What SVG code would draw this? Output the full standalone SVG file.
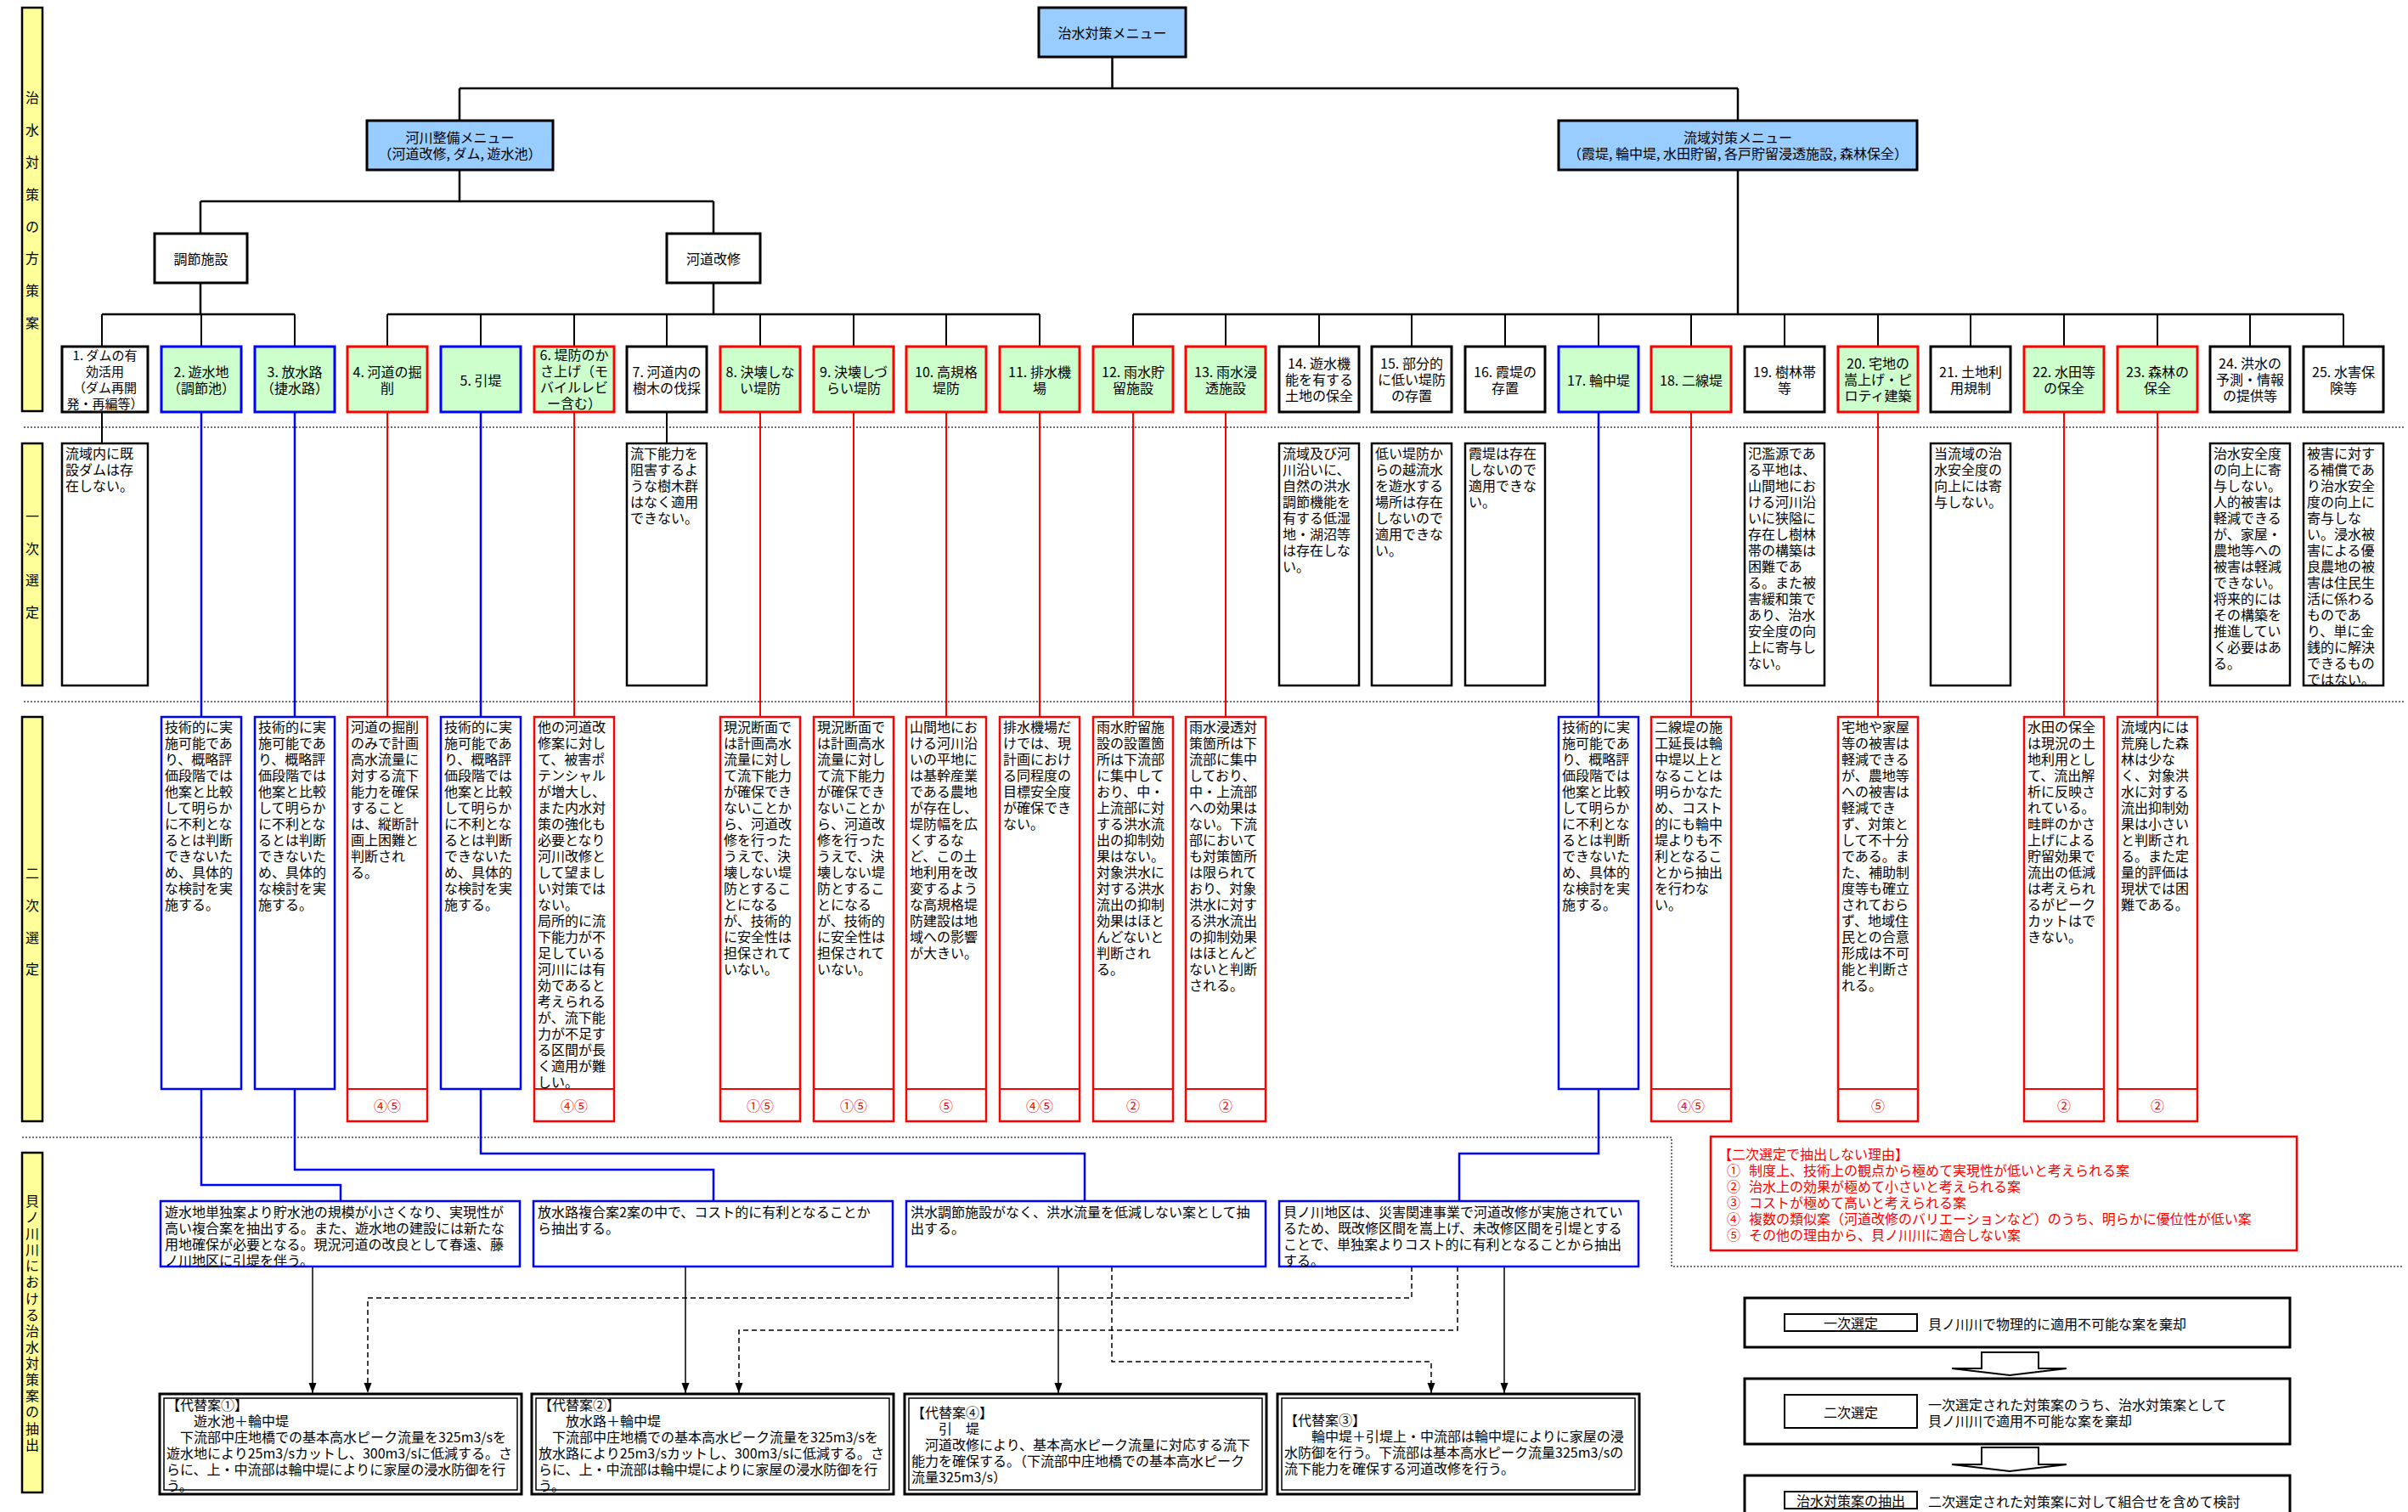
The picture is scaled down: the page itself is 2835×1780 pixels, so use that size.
<svg xmlns="http://www.w3.org/2000/svg" width="2835" height="1780" viewBox="0 0 2835 1780">
<style>
text{font-family:"Noto Sans CJK JP","Noto Sans",sans-serif;font-size:16px;fill:#000}
.c{text-anchor:middle;dominant-baseline:central}
.l{dominant-baseline:central}
.r{fill:#ff0000}
.nw{fill:#fff;stroke:#000;stroke-width:3}
.nb{fill:#ccffcc;stroke:#0000ff;stroke-width:3}
.nr{fill:#ccffcc;stroke:#ff0000;stroke-width:3}
.menu{fill:#99ccff;stroke:#000;stroke-width:3}
.yb{fill:#ffff99;stroke:#000;stroke-width:2.5}
.bw{fill:#fff;stroke:#000;stroke-width:2.5}
.bb{fill:#fff;stroke:#0000ff;stroke-width:2.5}
.br{fill:#fff;stroke:#ff0000;stroke-width:2.5}
.tree{fill:none;stroke:#000;stroke-width:2.5}
.drop{fill:none;stroke:#000;stroke-width:2}
.cb{fill:none;stroke:#0000ff;stroke-width:2.5}
.cr{fill:none;stroke:#ff0000;stroke-width:2}
.sep{fill:none;stroke:#444;stroke-width:1.5;stroke-dasharray:2 2}
.ar{fill:none;stroke:#000;stroke-width:1.5}
.ad{fill:none;stroke:#000;stroke-width:1.5;stroke-dasharray:6 4}
.alt{fill:#fff;stroke:#000;stroke-width:3}
.alti{fill:none;stroke:#000;stroke-width:1.5}
</style>
<defs>
<marker id="ahd" markerUnits="userSpaceOnUse" markerWidth="12" markerHeight="16" refX="16" refY="6" orient="auto" viewBox="0 0 16 12">
<path d="M0,0 L16,6 L0,12 z" fill="#000"/>
</marker>
</defs>

<g id="separators">
<path class="sep" d="M28,503 H2830"/>
<path class="sep" d="M28,826 H2830"/>
<path class="sep" d="M26,1339 H1968 V1491 H2830"/>
</g>

<g id="bar1"><rect class="yb" x="26" y="9" width="24" height="475"/>
<text class="c" x="38" y="114">治</text><text class="c" x="38" y="152">水</text><text class="c" x="38" y="190">対</text><text class="c" x="38" y="228">策</text><text class="c" x="38" y="266">の</text><text class="c" x="38" y="303">方</text><text class="c" x="38" y="341">策</text><text class="c" x="38" y="379">案</text></g>
<g id="bar2"><rect class="yb" x="26" y="522" width="24" height="285"/>
<text class="c" x="38" y="607">一</text><text class="c" x="38" y="645">次</text><text class="c" x="38" y="682">選</text><text class="c" x="38" y="720">定</text></g>
<g id="bar3"><rect class="yb" x="26" y="844" width="24" height="476"/>
<text class="c" x="38" y="1027">二</text><text class="c" x="38" y="1065">次</text><text class="c" x="38" y="1103">選</text><text class="c" x="38" y="1140">定</text></g>
<g id="bar4"><rect class="yb" x="26" y="1357" width="24" height="400"/>
<text class="c" x="38" y="1413">貝</text><text class="c" x="38" y="1432">ノ</text><text class="c" x="38" y="1451">川</text><text class="c" x="38" y="1470">川</text><text class="c" x="38" y="1489">に</text><text class="c" x="38" y="1508">お</text><text class="c" x="38" y="1528">け</text><text class="c" x="38" y="1547">る</text><text class="c" x="38" y="1566">治</text><text class="c" x="38" y="1585">水</text><text class="c" x="38" y="1604">対</text><text class="c" x="38" y="1623">策</text><text class="c" x="38" y="1642">案</text><text class="c" x="38" y="1661">の</text><text class="c" x="38" y="1681">抽</text><text class="c" x="38" y="1700">出</text></g>

<g id="connectors">
<path class="tree" d="M1309.5,67 V104 M541,104 H2046 M541,104 V142 M2046,104 V142"/>
<path class="tree" d="M541,200 V237 M236,237 H840 M236,237 V275 M840,237 V275"/>
<path class="tree" d="M236,333 V370 M120,370 H347 M840,333 V370 M456,370 H1224 M2046,200 V370 M1334,370 H2759"/>
<path class="drop" d="M120,370 V408 M237,370 V408 M347,370 V408 M456,370 V408 M566,370 V408 M676,370 V408 M785,370 V408 M895,370 V408 M1005,370 V408 M1114,370 V408 M1224,370 V408 M1334,370 V408 M1443,370 V408 M1553,370 V408 M1662,370 V408 M1772,370 V408 M1882,370 V408 M1991,370 V408 M2101,370 V408 M2211,370 V408 M2320,370 V408 M2430,370 V408 M2540,370 V408 M2649,370 V408 M2759,370 V408"/>
<path class="drop" d="M120,485 V522 M785,485 V522"/>
<path class="cb" d="M237,485 V844 M347,485 V844 M566,485 V844 M1882,485 V844"/>
<path class="cr" d="M456,485 V844 M676,485 V844 M895,485 V844 M1005,485 V844 M1114,485 V844 M1224,485 V844 M1334,485 V844 M1443,485 V844 M1991,485 V844 M2211,485 V844 M2430,485 V844 M2540,485 V844"/>
<path class="cb" d="M237,1282 V1395 H401 V1414 M347,1282 V1377 H840 V1414 M566,1282 V1358 H1277 V1414 M1882,1282 V1358 H1718 V1414"/>
<path class="ar" marker-end="url(#ahd)" d="M368,1491 V1640"/>
<path class="ar" marker-end="url(#ahd)" d="M807,1491 V1640"/>
<path class="ar" marker-end="url(#ahd)" d="M1246,1491 V1640"/>
<path class="ar" marker-end="url(#ahd)" d="M1771,1491 V1640"/>
<path class="ad" marker-end="url(#ahd)" d="M1662,1491 V1528 H433 V1640"/>
<path class="ad" marker-end="url(#ahd)" d="M1716,1491 V1566 H870 V1640"/>
<path class="ad" marker-end="url(#ahd)" d="M1309,1491 V1603 H1685 V1640"/>
</g>

<g id="menu-top"><rect class="menu" x="1223" y="9" width="173" height="58"/><text class="c" x="1309.5" y="38">治水対策メニュー</text></g>
<g id="menu-river"><rect class="menu" x="432" y="142" width="219" height="58"/><text class="c" x="541.5" y="161">河川整備メニュー</text><text class="c" x="541.5" y="180">（河道改修, ダム, 遊水池）</text></g>
<g id="menu-basin"><rect class="menu" x="1835" y="142" width="422" height="58"/><text class="c" x="2046" y="161">流域対策メニュー</text><text class="c" x="2046" y="180">（霞堤, 輪中堤, 水田貯留, 各戸貯留浸透施設, 森林保全）</text></g>
<g id="grp-chosetsu"><rect class="nw" x="182" y="275" width="109" height="58"/><text class="c" x="236.5" y="304">調節施設</text></g>
<g id="grp-kado"><rect class="nw" x="785" y="275" width="110" height="58"/><text class="c" x="840" y="304">河道改修</text></g>

<g id="n1"><rect class="nw" x="73" y="408" width="101" height="77"/><text class="c" style="font-size:15px" x="123.5" y="417">1. ダムの有<tspan x="123.5" dy="19">効活用</tspan><tspan x="123.5" dy="19">（ダム再開</tspan><tspan x="123.5" dy="19">発・再編等）</tspan></text></g>
<g id="n2"><rect class="nb" x="190" y="408" width="94" height="77"/><text class="c" x="237" y="437">2. 遊水地<tspan x="237" dy="19">（調節池）</tspan></text></g>
<g id="n3"><rect class="nb" x="300" y="408" width="94" height="77"/><text class="c" x="347" y="437">3. 放水路<tspan x="347" dy="19">（捷水路）</tspan></text></g>
<g id="n4"><rect class="nr" x="409" y="408" width="94" height="77"/><text class="c" x="456" y="437">4. 河道の掘<tspan x="456" dy="19">削</tspan></text></g>
<g id="n5"><rect class="nb" x="519" y="408" width="94" height="77"/><text class="c" x="566" y="446.5">5. 引堤</text></g>
<g id="n6"><rect class="nr" x="629" y="408" width="94" height="77"/><text class="c" x="676" y="417">6. 堤防のか<tspan x="676" dy="19">さ上げ（モ</tspan><tspan x="676" dy="19">バイルレビ</tspan><tspan x="676" dy="19">ー含む）</tspan></text></g>
<g id="n7"><rect class="nw" x="738" y="408" width="94" height="77"/><text class="c" x="785" y="437">7. 河道内の<tspan x="785" dy="19">樹木の伐採</tspan></text></g>
<g id="n8"><rect class="nr" x="848" y="408" width="94" height="77"/><text class="c" x="895" y="437">8. 決壊しな<tspan x="895" dy="19">い堤防</tspan></text></g>
<g id="n9"><rect class="nr" x="958" y="408" width="94" height="77"/><text class="c" x="1005" y="437">9. 決壊しづ<tspan x="1005" dy="19">らい堤防</tspan></text></g>
<g id="n10"><rect class="nr" x="1067" y="408" width="94" height="77"/><text class="c" x="1114" y="437">10. 高規格<tspan x="1114" dy="19">堤防</tspan></text></g>
<g id="n11"><rect class="nr" x="1177" y="408" width="94" height="77"/><text class="c" x="1224" y="437">11. 排水機<tspan x="1224" dy="19">場</tspan></text></g>
<g id="n12"><rect class="nr" x="1287" y="408" width="94" height="77"/><text class="c" x="1334" y="437">12. 雨水貯<tspan x="1334" dy="19">留施設</tspan></text></g>
<g id="n13"><rect class="nr" x="1396" y="408" width="94" height="77"/><text class="c" x="1443" y="437">13. 雨水浸<tspan x="1443" dy="19">透施設</tspan></text></g>
<g id="n14"><rect class="nw" x="1506" y="408" width="94" height="77"/><text class="c" x="1553" y="427">14. 遊水機<tspan x="1553" dy="19">能を有する</tspan><tspan x="1553" dy="19">土地の保全</tspan></text></g>
<g id="n15"><rect class="nw" x="1615" y="408" width="94" height="77"/><text class="c" x="1662" y="427">15. 部分的<tspan x="1662" dy="19">に低い堤防</tspan><tspan x="1662" dy="19">の存置</tspan></text></g>
<g id="n16"><rect class="nw" x="1725" y="408" width="94" height="77"/><text class="c" x="1772" y="437">16. 霞堤の<tspan x="1772" dy="19">存置</tspan></text></g>
<g id="n17"><rect class="nb" x="1835" y="408" width="94" height="77"/><text class="c" x="1882" y="446.5">17. 輪中堤</text></g>
<g id="n18"><rect class="nr" x="1944" y="408" width="94" height="77"/><text class="c" x="1991" y="446.5">18. 二線堤</text></g>
<g id="n19"><rect class="nw" x="2054" y="408" width="94" height="77"/><text class="c" x="2101" y="437">19. 樹林帯<tspan x="2101" dy="19">等</tspan></text></g>
<g id="n20"><rect class="nr" x="2164" y="408" width="94" height="77"/><text class="c" x="2211" y="427">20. 宅地の<tspan x="2211" dy="19">嵩上げ・ピ</tspan><tspan x="2211" dy="19">ロティ建築</tspan></text></g>
<g id="n21"><rect class="nw" x="2273" y="408" width="94" height="77"/><text class="c" x="2320" y="437">21. 土地利<tspan x="2320" dy="19">用規制</tspan></text></g>
<g id="n22"><rect class="nr" x="2383" y="408" width="94" height="77"/><text class="c" x="2430" y="437">22. 水田等<tspan x="2430" dy="19">の保全</tspan></text></g>
<g id="n23"><rect class="nr" x="2493" y="408" width="94" height="77"/><text class="c" x="2540" y="437">23. 森林の<tspan x="2540" dy="19">保全</tspan></text></g>
<g id="n24"><rect class="nw" x="2602" y="408" width="94" height="77"/><text class="c" x="2649" y="427">24. 洪水の<tspan x="2649" dy="19">予測・情報</tspan><tspan x="2649" dy="19">の提供等</tspan></text></g>
<g id="n25"><rect class="nw" x="2712" y="408" width="94" height="77"/><text class="c" x="2759" y="437">25. 水害保<tspan x="2759" dy="19">険等</tspan></text></g>

<g id="p1"><rect class="bw" x="73" y="522" width="101" height="285"/><text class="l" x="77" y="533">流域内に既<tspan x="77" dy="19">設ダムは存</tspan><tspan x="77" dy="19">在しない。</tspan></text></g>
<g id="p7"><rect class="bw" x="738" y="522" width="94" height="285"/><text class="l" x="742" y="533">流下能力を<tspan x="742" dy="19">阻害するよ</tspan><tspan x="742" dy="19">うな樹木群</tspan><tspan x="742" dy="19">はなく適用</tspan><tspan x="742" dy="19">できない。</tspan></text></g>
<g id="p14"><rect class="bw" x="1506" y="522" width="94" height="285"/><text class="l" x="1510" y="533">流域及び河<tspan x="1510" dy="19">川沿いに、</tspan><tspan x="1510" dy="19">自然の洪水</tspan><tspan x="1510" dy="19">調節機能を</tspan><tspan x="1510" dy="19">有する低湿</tspan><tspan x="1510" dy="19">地・湖沼等</tspan><tspan x="1510" dy="19">は存在しな</tspan><tspan x="1510" dy="19">い。</tspan></text></g>
<g id="p15"><rect class="bw" x="1615" y="522" width="94" height="285"/><text class="l" x="1619" y="533">低い堤防か<tspan x="1619" dy="19">らの越流水</tspan><tspan x="1619" dy="19">を遊水する</tspan><tspan x="1619" dy="19">場所は存在</tspan><tspan x="1619" dy="19">しないので</tspan><tspan x="1619" dy="19">適用できな</tspan><tspan x="1619" dy="19">い。</tspan></text></g>
<g id="p16"><rect class="bw" x="1725" y="522" width="94" height="285"/><text class="l" x="1729" y="533">霞堤は存在<tspan x="1729" dy="19">しないので</tspan><tspan x="1729" dy="19">適用できな</tspan><tspan x="1729" dy="19">い。</tspan></text></g>
<g id="p19"><rect class="bw" x="2054" y="522" width="94" height="285"/><text class="l" x="2058" y="533">氾濫源であ<tspan x="2058" dy="19">る平地は、</tspan><tspan x="2058" dy="19">山間地にお</tspan><tspan x="2058" dy="19">ける河川沿</tspan><tspan x="2058" dy="19">いに狭隘に</tspan><tspan x="2058" dy="19">存在し樹林</tspan><tspan x="2058" dy="19">帯の構築は</tspan><tspan x="2058" dy="19">困難であ</tspan><tspan x="2058" dy="19">る。また被</tspan><tspan x="2058" dy="19">害緩和策で</tspan><tspan x="2058" dy="19">あり、治水</tspan><tspan x="2058" dy="19">安全度の向</tspan><tspan x="2058" dy="19">上に寄与し</tspan><tspan x="2058" dy="19">ない。</tspan></text></g>
<g id="p21"><rect class="bw" x="2273" y="522" width="94" height="285"/><text class="l" x="2277" y="533">当流域の治<tspan x="2277" dy="19">水安全度の</tspan><tspan x="2277" dy="19">向上には寄</tspan><tspan x="2277" dy="19">与しない。</tspan></text></g>
<g id="p24"><rect class="bw" x="2602" y="522" width="94" height="285"/><text class="l" x="2606" y="533">治水安全度<tspan x="2606" dy="19">の向上に寄</tspan><tspan x="2606" dy="19">与しない。</tspan><tspan x="2606" dy="19">人的被害は</tspan><tspan x="2606" dy="19">軽減できる</tspan><tspan x="2606" dy="19">が、家屋・</tspan><tspan x="2606" dy="19">農地等への</tspan><tspan x="2606" dy="19">被害は軽減</tspan><tspan x="2606" dy="19">できない。</tspan><tspan x="2606" dy="19">将来的には</tspan><tspan x="2606" dy="19">その構築を</tspan><tspan x="2606" dy="19">推進してい</tspan><tspan x="2606" dy="19">く必要はあ</tspan><tspan x="2606" dy="19">る。</tspan></text></g>
<g id="p25"><rect class="bw" x="2712" y="522" width="94" height="285"/><text class="l" x="2716" y="533">被害に対す<tspan x="2716" dy="19">る補償であ</tspan><tspan x="2716" dy="19">り治水安全</tspan><tspan x="2716" dy="19">度の向上に</tspan><tspan x="2716" dy="19">寄与しな</tspan><tspan x="2716" dy="19">い。浸水被</tspan><tspan x="2716" dy="19">害による優</tspan><tspan x="2716" dy="19">良農地の被</tspan><tspan x="2716" dy="19">害は住民生</tspan><tspan x="2716" dy="19">活に係わる</tspan><tspan x="2716" dy="19">ものであ</tspan><tspan x="2716" dy="19">り、単に金</tspan><tspan x="2716" dy="19">銭的に解決</tspan><tspan x="2716" dy="19">できるもの</tspan><tspan x="2716" dy="19">ではない。</tspan></text></g>

<g id="s2"><rect class="bb" x="190" y="844" width="94" height="438"/><text class="l" x="194" y="855">技術的に実<tspan x="194" dy="19">施可能であ</tspan><tspan x="194" dy="19">り、概略評</tspan><tspan x="194" dy="19">価段階では</tspan><tspan x="194" dy="19">他案と比較</tspan><tspan x="194" dy="19">して明らか</tspan><tspan x="194" dy="19">に不利とな</tspan><tspan x="194" dy="19">るとは判断</tspan><tspan x="194" dy="19">できないた</tspan><tspan x="194" dy="19">め、具体的</tspan><tspan x="194" dy="19">な検討を実</tspan><tspan x="194" dy="19">施する。</tspan></text></g>
<g id="s3"><rect class="bb" x="300" y="844" width="94" height="438"/><text class="l" x="304" y="855">技術的に実<tspan x="304" dy="19">施可能であ</tspan><tspan x="304" dy="19">り、概略評</tspan><tspan x="304" dy="19">価段階では</tspan><tspan x="304" dy="19">他案と比較</tspan><tspan x="304" dy="19">して明らか</tspan><tspan x="304" dy="19">に不利とな</tspan><tspan x="304" dy="19">るとは判断</tspan><tspan x="304" dy="19">できないた</tspan><tspan x="304" dy="19">め、具体的</tspan><tspan x="304" dy="19">な検討を実</tspan><tspan x="304" dy="19">施する。</tspan></text></g>
<g id="s4"><rect class="br" x="409" y="844" width="94" height="476"/><path class="cr" d="M409,1282 H503"/><text class="l" x="413" y="855">河道の掘削<tspan x="413" dy="19">のみで計画</tspan><tspan x="413" dy="19">高水流量に</tspan><tspan x="413" dy="19">対する流下</tspan><tspan x="413" dy="19">能力を確保</tspan><tspan x="413" dy="19">すること</tspan><tspan x="413" dy="19">は、縦断計</tspan><tspan x="413" dy="19">画上困難と</tspan><tspan x="413" dy="19">判断され</tspan><tspan x="413" dy="19">る。</tspan></text><text class="c r" x="456" y="1301">④⑤</text></g>
<g id="s5"><rect class="bb" x="519" y="844" width="94" height="438"/><text class="l" x="523" y="855">技術的に実<tspan x="523" dy="19">施可能であ</tspan><tspan x="523" dy="19">り、概略評</tspan><tspan x="523" dy="19">価段階では</tspan><tspan x="523" dy="19">他案と比較</tspan><tspan x="523" dy="19">して明らか</tspan><tspan x="523" dy="19">に不利とな</tspan><tspan x="523" dy="19">るとは判断</tspan><tspan x="523" dy="19">できないた</tspan><tspan x="523" dy="19">め、具体的</tspan><tspan x="523" dy="19">な検討を実</tspan><tspan x="523" dy="19">施する。</tspan></text></g>
<g id="s6"><rect class="br" x="629" y="844" width="94" height="476"/><path class="cr" d="M629,1282 H723"/><text class="l" x="633" y="855">他の河道改<tspan x="633" dy="19">修案に対し</tspan><tspan x="633" dy="19">て、被害ポ</tspan><tspan x="633" dy="19">テンシャル</tspan><tspan x="633" dy="19">が増大し、</tspan><tspan x="633" dy="19">また内水対</tspan><tspan x="633" dy="19">策の強化も</tspan><tspan x="633" dy="19">必要となり</tspan><tspan x="633" dy="19">河川改修と</tspan><tspan x="633" dy="19">して望まし</tspan><tspan x="633" dy="19">い対策では</tspan><tspan x="633" dy="19">ない。</tspan><tspan x="633" dy="19">局所的に流</tspan><tspan x="633" dy="19">下能力が不</tspan><tspan x="633" dy="19">足している</tspan><tspan x="633" dy="19">河川には有</tspan><tspan x="633" dy="19">効であると</tspan><tspan x="633" dy="19">考えられる</tspan><tspan x="633" dy="19">が、流下能</tspan><tspan x="633" dy="19">力が不足す</tspan><tspan x="633" dy="19">る区間が長</tspan><tspan x="633" dy="19">く適用が難</tspan><tspan x="633" dy="19">しい。</tspan></text><text class="c r" x="676" y="1301">④⑤</text></g>
<g id="s8"><rect class="br" x="848" y="844" width="94" height="476"/><path class="cr" d="M848,1282 H942"/><text class="l" x="852" y="855">現況断面で<tspan x="852" dy="19">は計画高水</tspan><tspan x="852" dy="19">流量に対し</tspan><tspan x="852" dy="19">て流下能力</tspan><tspan x="852" dy="19">が確保でき</tspan><tspan x="852" dy="19">ないことか</tspan><tspan x="852" dy="19">ら、河道改</tspan><tspan x="852" dy="19">修を行った</tspan><tspan x="852" dy="19">うえで、決</tspan><tspan x="852" dy="19">壊しない堤</tspan><tspan x="852" dy="19">防とするこ</tspan><tspan x="852" dy="19">とになる</tspan><tspan x="852" dy="19">が、技術的</tspan><tspan x="852" dy="19">に安全性は</tspan><tspan x="852" dy="19">担保されて</tspan><tspan x="852" dy="19">いない。</tspan></text><text class="c r" x="895" y="1301">①⑤</text></g>
<g id="s9"><rect class="br" x="958" y="844" width="94" height="476"/><path class="cr" d="M958,1282 H1052"/><text class="l" x="962" y="855">現況断面で<tspan x="962" dy="19">は計画高水</tspan><tspan x="962" dy="19">流量に対し</tspan><tspan x="962" dy="19">て流下能力</tspan><tspan x="962" dy="19">が確保でき</tspan><tspan x="962" dy="19">ないことか</tspan><tspan x="962" dy="19">ら、河道改</tspan><tspan x="962" dy="19">修を行った</tspan><tspan x="962" dy="19">うえで、決</tspan><tspan x="962" dy="19">壊しない堤</tspan><tspan x="962" dy="19">防とするこ</tspan><tspan x="962" dy="19">とになる</tspan><tspan x="962" dy="19">が、技術的</tspan><tspan x="962" dy="19">に安全性は</tspan><tspan x="962" dy="19">担保されて</tspan><tspan x="962" dy="19">いない。</tspan></text><text class="c r" x="1005" y="1301">①⑤</text></g>
<g id="s10"><rect class="br" x="1067" y="844" width="94" height="476"/><path class="cr" d="M1067,1282 H1161"/><text class="l" x="1071" y="855">山間地にお<tspan x="1071" dy="19">ける河川沿</tspan><tspan x="1071" dy="19">いの平地に</tspan><tspan x="1071" dy="19">は基幹産業</tspan><tspan x="1071" dy="19">である農地</tspan><tspan x="1071" dy="19">が存在し、</tspan><tspan x="1071" dy="19">堤防幅を広</tspan><tspan x="1071" dy="19">くするな</tspan><tspan x="1071" dy="19">ど、この土</tspan><tspan x="1071" dy="19">地利用を改</tspan><tspan x="1071" dy="19">変するよう</tspan><tspan x="1071" dy="19">な高規格堤</tspan><tspan x="1071" dy="19">防建設は地</tspan><tspan x="1071" dy="19">域への影響</tspan><tspan x="1071" dy="19">が大きい。</tspan></text><text class="c r" x="1114" y="1301">⑤</text></g>
<g id="s11"><rect class="br" x="1177" y="844" width="94" height="476"/><path class="cr" d="M1177,1282 H1271"/><text class="l" x="1181" y="855">排水機場だ<tspan x="1181" dy="19">けでは、現</tspan><tspan x="1181" dy="19">計画におけ</tspan><tspan x="1181" dy="19">る同程度の</tspan><tspan x="1181" dy="19">目標安全度</tspan><tspan x="1181" dy="19">が確保でき</tspan><tspan x="1181" dy="19">ない。</tspan></text><text class="c r" x="1224" y="1301">④⑤</text></g>
<g id="s12"><rect class="br" x="1287" y="844" width="94" height="476"/><path class="cr" d="M1287,1282 H1381"/><text class="l" x="1291" y="855">雨水貯留施<tspan x="1291" dy="19">設の設置箇</tspan><tspan x="1291" dy="19">所は下流部</tspan><tspan x="1291" dy="19">に集中して</tspan><tspan x="1291" dy="19">おり、中・</tspan><tspan x="1291" dy="19">上流部に対</tspan><tspan x="1291" dy="19">する洪水流</tspan><tspan x="1291" dy="19">出の抑制効</tspan><tspan x="1291" dy="19">果はない。</tspan><tspan x="1291" dy="19">対象洪水に</tspan><tspan x="1291" dy="19">対する洪水</tspan><tspan x="1291" dy="19">流出の抑制</tspan><tspan x="1291" dy="19">効果はほと</tspan><tspan x="1291" dy="19">んどないと</tspan><tspan x="1291" dy="19">判断され</tspan><tspan x="1291" dy="19">る。</tspan></text><text class="c r" x="1334" y="1301">②</text></g>
<g id="s13"><rect class="br" x="1396" y="844" width="94" height="476"/><path class="cr" d="M1396,1282 H1490"/><text class="l" x="1400" y="855">雨水浸透対<tspan x="1400" dy="19">策箇所は下</tspan><tspan x="1400" dy="19">流部に集中</tspan><tspan x="1400" dy="19">しており、</tspan><tspan x="1400" dy="19">中・上流部</tspan><tspan x="1400" dy="19">への効果は</tspan><tspan x="1400" dy="19">ない。下流</tspan><tspan x="1400" dy="19">部において</tspan><tspan x="1400" dy="19">も対策箇所</tspan><tspan x="1400" dy="19">は限られて</tspan><tspan x="1400" dy="19">おり、対象</tspan><tspan x="1400" dy="19">洪水に対す</tspan><tspan x="1400" dy="19">る洪水流出</tspan><tspan x="1400" dy="19">の抑制効果</tspan><tspan x="1400" dy="19">はほとんど</tspan><tspan x="1400" dy="19">ないと判断</tspan><tspan x="1400" dy="19">される。</tspan></text><text class="c r" x="1443" y="1301">②</text></g>
<g id="s17"><rect class="bb" x="1835" y="844" width="94" height="438"/><text class="l" x="1839" y="855">技術的に実<tspan x="1839" dy="19">施可能であ</tspan><tspan x="1839" dy="19">り、概略評</tspan><tspan x="1839" dy="19">価段階では</tspan><tspan x="1839" dy="19">他案と比較</tspan><tspan x="1839" dy="19">して明らか</tspan><tspan x="1839" dy="19">に不利とな</tspan><tspan x="1839" dy="19">るとは判断</tspan><tspan x="1839" dy="19">できないた</tspan><tspan x="1839" dy="19">め、具体的</tspan><tspan x="1839" dy="19">な検討を実</tspan><tspan x="1839" dy="19">施する。</tspan></text></g>
<g id="s18"><rect class="br" x="1944" y="844" width="94" height="476"/><path class="cr" d="M1944,1282 H2038"/><text class="l" x="1948" y="855">二線堤の施<tspan x="1948" dy="19">工延長は輪</tspan><tspan x="1948" dy="19">中堤以上と</tspan><tspan x="1948" dy="19">なることは</tspan><tspan x="1948" dy="19">明らかなた</tspan><tspan x="1948" dy="19">め、コスト</tspan><tspan x="1948" dy="19">的にも輪中</tspan><tspan x="1948" dy="19">堤よりも不</tspan><tspan x="1948" dy="19">利となるこ</tspan><tspan x="1948" dy="19">とから抽出</tspan><tspan x="1948" dy="19">を行わな</tspan><tspan x="1948" dy="19">い。</tspan></text><text class="c r" x="1991" y="1301">④⑤</text></g>
<g id="s20"><rect class="br" x="2164" y="844" width="94" height="476"/><path class="cr" d="M2164,1282 H2258"/><text class="l" x="2168" y="855">宅地や家屋<tspan x="2168" dy="19">等の被害は</tspan><tspan x="2168" dy="19">軽減できる</tspan><tspan x="2168" dy="19">が、農地等</tspan><tspan x="2168" dy="19">への被害は</tspan><tspan x="2168" dy="19">軽減でき</tspan><tspan x="2168" dy="19">ず、対策と</tspan><tspan x="2168" dy="19">して不十分</tspan><tspan x="2168" dy="19">である。ま</tspan><tspan x="2168" dy="19">た、補助制</tspan><tspan x="2168" dy="19">度等も確立</tspan><tspan x="2168" dy="19">されておら</tspan><tspan x="2168" dy="19">ず、地域住</tspan><tspan x="2168" dy="19">民との合意</tspan><tspan x="2168" dy="19">形成は不可</tspan><tspan x="2168" dy="19">能と判断さ</tspan><tspan x="2168" dy="19">れる。</tspan></text><text class="c r" x="2211" y="1301">⑤</text></g>
<g id="s22"><rect class="br" x="2383" y="844" width="94" height="476"/><path class="cr" d="M2383,1282 H2477"/><text class="l" x="2387" y="855">水田の保全<tspan x="2387" dy="19">は現況の土</tspan><tspan x="2387" dy="19">地利用とし</tspan><tspan x="2387" dy="19">て、流出解</tspan><tspan x="2387" dy="19">析に反映さ</tspan><tspan x="2387" dy="19">れている。</tspan><tspan x="2387" dy="19">畦畔のかさ</tspan><tspan x="2387" dy="19">上げによる</tspan><tspan x="2387" dy="19">貯留効果で</tspan><tspan x="2387" dy="19">流出の低減</tspan><tspan x="2387" dy="19">は考えられ</tspan><tspan x="2387" dy="19">るがピーク</tspan><tspan x="2387" dy="19">カットはで</tspan><tspan x="2387" dy="19">きない。</tspan></text><text class="c r" x="2430" y="1301">②</text></g>
<g id="s23"><rect class="br" x="2493" y="844" width="94" height="476"/><path class="cr" d="M2493,1282 H2587"/><text class="l" x="2497" y="855">流域内には<tspan x="2497" dy="19">荒廃した森</tspan><tspan x="2497" dy="19">林は少な</tspan><tspan x="2497" dy="19">く、対象洪</tspan><tspan x="2497" dy="19">水に対する</tspan><tspan x="2497" dy="19">流出抑制効</tspan><tspan x="2497" dy="19">果は小さい</tspan><tspan x="2497" dy="19">と判断され</tspan><tspan x="2497" dy="19">る。また定</tspan><tspan x="2497" dy="19">量的評価は</tspan><tspan x="2497" dy="19">現状では困</tspan><tspan x="2497" dy="19">難である。</tspan></text><text class="c r" x="2540" y="1301">②</text></g>

<g id="ex-a"><rect class="bb" x="189" y="1414" width="423" height="77"/><text class="l" x="194" y="1426">遊水地単独案より貯水池の規模が小さくなり、実現性が<tspan x="194" dy="19">高い複合案を抽出する。また、遊水地の建設には新たな</tspan><tspan x="194" dy="19">用地確保が必要となる。現況河道の改良として春遠、藤</tspan><tspan x="194" dy="19">ノ川地区に引堤を伴う。</tspan></text></g>
<g id="ex-b"><rect class="bb" x="628" y="1414" width="423" height="77"/><text class="l" x="633" y="1426">放水路複合案2案の中で、コスト的に有利となることか<tspan x="633" dy="19">ら抽出する。</tspan></text></g>
<g id="ex-c"><rect class="bb" x="1067" y="1414" width="423" height="77"/><text class="l" x="1072" y="1426">洪水調節施設がなく、洪水流量を低減しない案として抽<tspan x="1072" dy="19">出する。</tspan></text></g>
<g id="ex-d"><rect class="bb" x="1506" y="1414" width="423" height="77"/><text class="l" x="1511" y="1426">貝ノ川地区は、災害関連事業で河道改修が実施されてい<tspan x="1511" dy="19">るため、既改修区間を嵩上げ、未改修区間を引堤とする</tspan><tspan x="1511" dy="19">ことで、単独案よりコスト的に有利となることから抽出</tspan><tspan x="1511" dy="19">する。</tspan></text></g>

<g id="alt1"><rect class="alt" x="188" y="1641" width="426" height="118"/><rect class="alti" x="193" y="1646" width="416" height="108"/><text class="l" x="196" y="1653">【代替案①】<tspan x="196" dy="19">　　遊水池＋輪中堤</tspan><tspan x="196" dy="19">　下流部中庄地橋での基本高水ピーク流量を325m3/sを</tspan><tspan x="196" dy="19">遊水地により25m3/sカットし、300m3/sに低減する。さ</tspan><tspan x="196" dy="19">らに、上・中流部は輪中堤によりに家屋の浸水防御を行</tspan><tspan x="196" dy="19">う。</tspan></text></g>
<g id="alt2"><rect class="alt" x="626" y="1641" width="426" height="118"/><rect class="alti" x="631" y="1646" width="416" height="108"/><text class="l" x="634" y="1653">【代替案②】<tspan x="634" dy="19">　　放水路＋輪中堤</tspan><tspan x="634" dy="19">　下流部中庄地橋での基本高水ピーク流量を325m3/sを</tspan><tspan x="634" dy="19">放水路により25m3/sカットし、300m3/sに低減する。さ</tspan><tspan x="634" dy="19">らに、上・中流部は輪中堤によりに家屋の浸水防御を行</tspan><tspan x="634" dy="19">う。</tspan></text></g>
<g id="alt4"><rect class="alt" x="1065" y="1641" width="426" height="118"/><rect class="alti" x="1070" y="1646" width="416" height="108"/><text class="l" x="1073" y="1662">【代替案④】<tspan x="1073" dy="19">　　引　堤</tspan><tspan x="1073" dy="19">　河道改修により、基本高水ピーク流量に対応する流下</tspan><tspan x="1073" dy="19">能力を確保する。（下流部中庄地橋での基本高水ピーク</tspan><tspan x="1073" dy="19">流量325m3/s）</tspan></text></g>
<g id="alt3"><rect class="alt" x="1504" y="1641" width="426" height="118"/><rect class="alti" x="1509" y="1646" width="416" height="108"/><text class="l" x="1512" y="1671">【代替案③】<tspan x="1512" dy="19">　　輪中堤＋引堤上・中流部は輪中堤によりに家屋の浸</tspan><tspan x="1512" dy="19">水防御を行う。下流部は基本高水ピーク流量325m3/sの</tspan><tspan x="1512" dy="19">流下能力を確保する河道改修を行う。</tspan></text></g>

<g id="reasons"><rect class="br" x="2014" y="1338" width="690" height="134"/>
<text class="l r" x="2023" y="1358">【二次選定で抽出しない理由】</text>
<text class="l r" x="2033" y="1377">①<tspan x="2059">制度上、技術上の観点から極めて実現性が低いと考えられる案</tspan></text>
<text class="l r" x="2033" y="1396">②<tspan x="2059">治水上の効果が極めて小さいと考えられる案</tspan></text>
<text class="l r" x="2033" y="1415">③<tspan x="2059">コストが極めて高いと考えられる案</tspan></text>
<text class="l r" x="2033" y="1434">④<tspan x="2059">複数の類似案（河道改修のバリエーションなど）のうち、明らかに優位性が低い案</tspan></text>
<text class="l r" x="2033" y="1453">⑤<tspan x="2059">その他の理由から、貝ノ川川に適合しない案</tspan></text>
</g>

<g id="flow1"><rect class="bw" style="stroke-width:3" x="2054" y="1528" width="642" height="58"/><rect class="bw" style="stroke-width:2" x="2101" y="1547" width="156" height="20"/><text class="c" x="2179" y="1557">一次選定</text><text class="l" x="2270" y="1558">貝ノ川川で物理的に適用不可能な案を棄却</text></g>
<g id="flowarrow1"><polygon points="2333,1592 2400,1592 2400,1611 2433,1611 2366,1619 2298,1611 2333,1611" fill="#fff" stroke="#000" stroke-width="2"/></g>
<g id="flow2"><rect class="bw" style="stroke-width:3" x="2054" y="1623" width="642" height="77"/><rect class="bw" style="stroke-width:2" x="2101" y="1642" width="156" height="39"/><text class="c" x="2179" y="1661.5">二次選定</text><text class="l" x="2270" y="1653">一次選定された対策案のうち、治水対策案として<tspan x="2270" dy="19">貝ノ川川で適用不可能な案を棄却</tspan></text></g>
<g id="flowarrow2"><polygon points="2333,1704 2400,1704 2400,1724 2433,1724 2366,1732 2298,1724 2333,1724" fill="#fff" stroke="#000" stroke-width="2"/></g>
<g id="flow3"><rect class="bw" style="stroke-width:3" x="2054" y="1737" width="642" height="60"/><rect class="bw" style="stroke-width:2" x="2101" y="1756" width="156" height="20"/><text class="c" x="2179" y="1766">治水対策案の抽出</text><text class="l" x="2270" y="1767">二次選定された対策案に対して組合せを含めて検討</text></g>
</svg>
